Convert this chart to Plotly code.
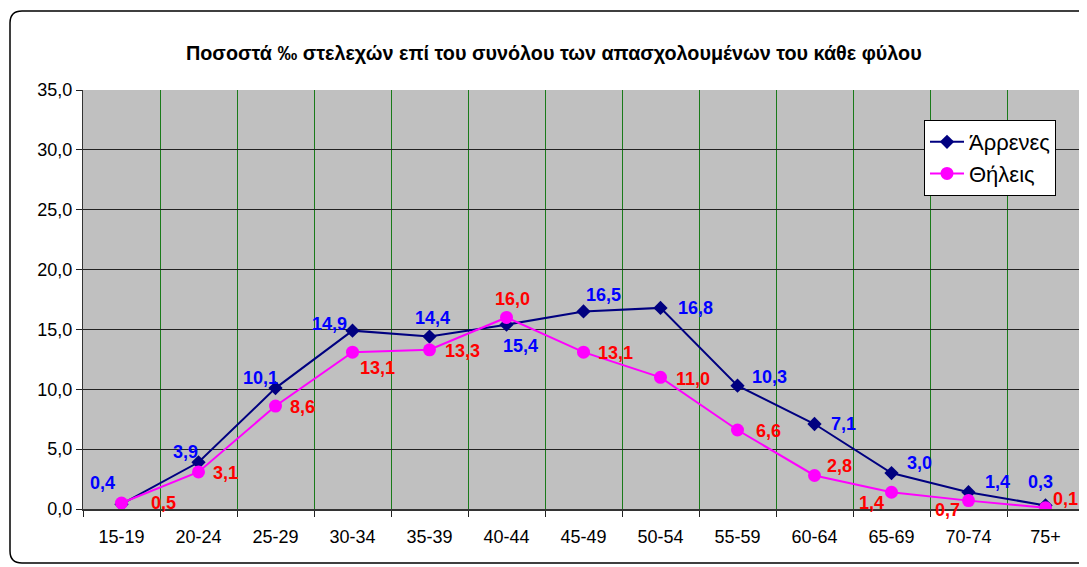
import plotly.graph_objects as go

# age groups and rates (per mille)
age_groups = ["15-19", "20-24", "25-29", "30-34", "35-39", "40-44", "45-49",
              "50-54", "55-59", "60-64", "65-69", "70-74", "75+"]
males = [0.4, 3.9, 10.1, 14.9, 14.4, 15.4, 16.5, 16.8, 10.3, 7.1, 3.0, 1.4, 0.3]
females = [0.5, 3.1, 8.6, 13.1, 13.3, 16.0, 13.1, 11.0, 6.6, 2.8, 1.4, 0.7, 0.1]

# label offsets in pixels (dx, dy) for each data label
male_off = [(-19, -21), (-13, -10), (-15, -10), (-23, -7), (3, -19), (14, 21), (20, -16),
            (35, 0), (32, -9), (29, 0), (28, -10), (29, -10), (-5, -23)]
female_off = [(42, 0), (27, 1), (27, 1), (25, 16), (33, 1), (6, -18), (32, 1),
              (32, 2), (31, 1), (25, -9), (-20, 11), (-21, 9), (20, -9)]

PW, PH = 1001, 419  # plot area size in px

fig = go.Figure()
fig.add_trace(go.Scatter(x=age_groups, y=males, name="Άρρενες", mode="lines+markers",
                         line=dict(color="#000080", width=2),
                         marker=dict(symbol="diamond", size=11, color="#000080")))
fig.add_trace(go.Scatter(x=age_groups, y=females, name="Θήλεις", mode="lines+markers",
                         line=dict(color="#FF00FF", width=2),
                         marker=dict(symbol="circle", size=13, color="#FF00FF")))

fmt = lambda v: f"{v:.1f}".replace(".", ",")
annots = []
for cat, v, (dx, dy) in zip(age_groups, males, male_off):
    annots.append(dict(x=cat, y=v, text=fmt(v), showarrow=False, xshift=dx, yshift=-dy,
                       font=dict(family="Arial", size=18, color="#0000FF", weight="bold")))
for cat, v, (dx, dy) in zip(age_groups, females, female_off):
    annots.append(dict(x=cat, y=v, text=fmt(v), showarrow=False, xshift=dx, yshift=-dy,
                       font=dict(family="Arial", size=18, color="#FF0000", weight="bold")))

annots.append(dict(xref="paper", yref="paper", x=(553 - 82) / PW, y=(509 - 40) / PH,
                   text="<b>Ποσοστά ‰ στελεχών επί του συνόλου των απασχολουμένων του κάθε φύλου</b>",
                   showarrow=False, font=dict(family="Arial", size=19.8, color="black")))

# rounded outer border, in paper coords
L, R = -73 / PW, (1095 - 82) / PW
T, B = (501 - 3) / PH, (501 - 555) / PH
rx, ry = 12 / PW, 12 / PH
path = (f"M {L+rx},{T} L {R},{T} L {R},{B} L {L+rx},{B} "
        f"Q {L},{B} {L},{B+ry} L {L},{T-ry} Q {L},{T} {L+rx},{T} Z")

# page has an 8px body margin, so the figure is shifted by that much
# (half pixel on the left keeps the 1px grid lines sharp)
fig.update_layout(
    width=74.5 + PW, height=559,
    margin=dict(l=74.5, r=0, t=82, b=58),
    paper_bgcolor="white", plot_bgcolor="#C0C0C0",
    separators=",.",
    annotations=annots,
    shapes=[dict(type="path", xref="paper", yref="paper", path=path,
                 line=dict(color="black", width=1.5))],
    showlegend=True,
    legend=dict(x=(923 - 82) / PW, y=(509 - 120) / PH, xanchor="left", yanchor="top",
                bgcolor="white", bordercolor="black", borderwidth=1,
                font=dict(family="Arial", size=22, color="black"),
                itemwidth=34, tracegroupgap=0),
    font=dict(family="Arial", color="black"),
)
fig.update_xaxes(type="category", range=[-0.5, 12.5], tickson="boundaries", showgrid=True,
                 gridcolor="#1A7A1A", gridwidth=1, ticks="outside", ticklen=6,
                 tickcolor="#222222", showline=True, linecolor="#333333", linewidth=2,
                 ticklabelstandoff=10,
                 tickfont=dict(family="Arial", size=18, color="black"))
fig.update_yaxes(range=[0, 35], dtick=5, tickformat=".1f", showgrid=True, gridcolor="#222222",
                 gridwidth=1, ticks="outside", ticklen=6, tickcolor="#222222",
                 showline=True, linecolor="#333333", linewidth=1, zeroline=False,
                 tickfont=dict(family="Arial", size=18, color="black"))

fig.write_html("out.html")
